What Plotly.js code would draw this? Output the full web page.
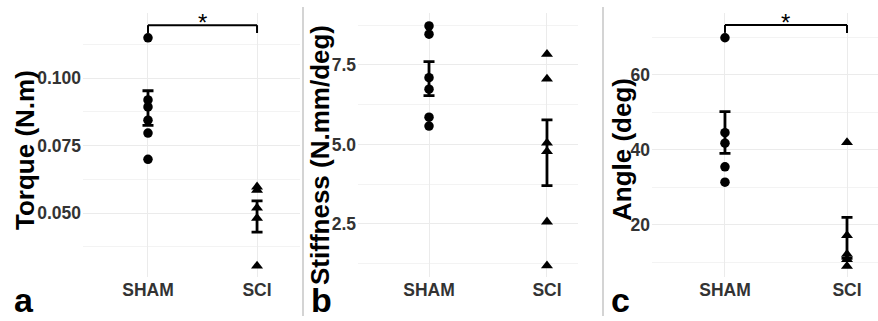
<!DOCTYPE html>
<html>
<head>
<meta charset="utf-8">
<script src="https://cdn.plot.ly/plotly-3.0.1.min.js"></script>
<style>html,body{margin:0;padding:0;background:#fff;}#chart{width:878px;height:321px;}</style>
</head>
<body>
<div id="chart"></div>
<script>
// ---- data ----
const categories = ['SHAM', 'SCI'];

const torqueSham = [0.1149, 0.0919, 0.0893, 0.0844, 0.0796, 0.0699];
const torqueSci  = [0.0597, 0.0585, 0.0519, 0.0481, 0.0304];
const torqueMean = [0.0889, 0.0487];
const torqueSE   = [0.0064, 0.0058];

const stiffSham = [8.73, 8.47, 7.10, 6.74, 5.86, 5.58];
const stiffSci  = [7.84, 7.06, 5.05, 4.78, 2.57, 1.19];
const stiffMean = [7.07, 4.74];
const stiffSE   = [0.535, 1.035];

const angleSham = [69.9, 44.6, 41.8, 35.5, 31.4];
const angleSci  = [42.0, 17.2, 12.2, 10.8, 9.0];
const angleMean = [44.65, 16.55];
const angleSE   = [5.55, 5.45];

const yTitles = ['Torque (N.m)', 'Stiffness (N.mm/deg)', 'Angle (deg)'];
const panelLabels = ['a', 'b', 'c'];
const sigText = '*';

// ---- layout helpers ----
const W = 878, H = 321;
const FONT = 'Liberation Sans, Arial, Helvetica, sans-serif';
const px = v => v / W;
const py = v => 1 - v / H;
const plotTop = 13, plotBot = 277;

const panels = [
  {sham: torqueSham, sci: torqueSci, mean: torqueMean, se: torqueSE,
   left: 83, right: 300, xr: [-0.596, 1.394], yr: [0.0263, 0.1241], dt: 0.025, fmt: '.3f',
   titleX: 25, titleY: 150, labelX: 12, sig: [0.1167, 0.1196]},
  {sham: stiffSham, sci: stiffSci, mean: stiffMean, se: stiffSE,
   left: 358, right: 578, xr: [-0.602, 1.263], yr: [0.833, 9.135], dt: 2.5, fmt: '.1f',
   titleX: 320, titleY: 155, labelX: 309, sig: null},
  {sham: angleSham, sci: angleSci, mean: angleMean, se: angleSE,
   left: 652, right: 878, xr: [-0.598, 1.254], yr: [6.13, 76.5], dt: 20, fmt: 'd',
   titleX: 622, titleY: 150, labelX: 609, sig: [71.2, 73.3]}
];

const traces = [];
const layout = {
  width: W, height: H,
  margin: {l: 0, r: 0, t: 0, b: 0},
  paper_bgcolor: '#ffffff', plot_bgcolor: '#ffffff',
  showlegend: false, hovermode: false,
  font: {family: FONT},
  shapes: [], annotations: []
};

panels.forEach((p, i) => {
  const n = i === 0 ? '' : String(i + 1);
  const xa = 'x' + n, ya = 'y' + n;
  traces.push({
    type: 'scatter', mode: 'markers', xaxis: xa, yaxis: ya,
    x: p.sham.map(() => categories[0]), y: p.sham,
    marker: {symbol: 'circle', size: 9.5, color: '#000'}
  });
  traces.push({
    type: 'scatter', mode: 'markers', xaxis: xa, yaxis: ya,
    x: p.sci.map(() => categories[1]), y: p.sci,
    marker: {symbol: 'triangle-up', size: 10.5, color: '#000'}
  });
  traces.push({
    type: 'scatter', mode: 'markers', xaxis: xa, yaxis: ya,
    x: categories, y: p.mean,
    marker: {size: 1, opacity: 0},
    error_y: {type: 'data', array: p.se, visible: true, color: '#000', thickness: 2.8, width: 5.5}
  });
  layout['xaxis' + n] = {
    domain: [px(p.left), px(p.right)], anchor: ya,
    type: 'category', categoryorder: 'array', categoryarray: categories,
    range: p.xr, showgrid: true, gridcolor: '#ebebeb', gridwidth: 1,
    zeroline: false, showline: false, ticks: '',
    tickfont: {family: FONT, size: 17.5, color: '#333', weight: 'bold'}
  };
  layout['yaxis' + n] = {
    domain: [py(plotBot), py(plotTop)], anchor: xa,
    range: p.yr, dtick: p.dt, tick0: 0, tickformat: p.fmt,
    showgrid: true, gridcolor: '#ebebeb', gridwidth: 1,
    minor: {dtick: p.dt / 2, tick0: 0, showgrid: true, gridcolor: '#f3f3f3', gridwidth: 1, ticks: ''},
    zeroline: false, showline: false, ticks: '', ticklabelstandoff: 1,
    tickfont: {family: FONT, size: 17.5, color: '#333', weight: 'bold'}
  };
  layout.annotations.push({
    xref: 'paper', yref: 'paper', x: px(p.titleX), y: py(p.titleY),
    xanchor: 'center', yanchor: 'middle', textangle: -90, showarrow: false,
    text: yTitles[i], font: {family: FONT, size: 26, color: '#000', weight: 'bold'}
  });
  layout.annotations.push({
    xref: 'paper', yref: 'paper', x: px(p.labelX), y: py(321),
    xanchor: 'left', yanchor: 'bottom', showarrow: false,
    text: panelLabels[i], font: {family: FONT, size: 34, color: '#000', weight: 'bold'}
  });
  if (p.sig) {
    const [lo, hi] = p.sig;
    const ln = {color: '#000', width: 2};
    layout.shapes.push({type: 'line', xref: xa, yref: ya, x0: 0, x1: 1, y0: hi, y1: hi, line: ln});
    layout.shapes.push({type: 'line', xref: xa, yref: ya, x0: 0, x1: 0, y0: lo, y1: hi, line: ln});
    layout.shapes.push({type: 'line', xref: xa, yref: ya, x0: 1, x1: 1, y0: lo, y1: hi, line: ln});
    layout.annotations.push({
      xref: xa, yref: ya, x: 0.5, y: hi, xanchor: 'center', yanchor: 'bottom',
      showarrow: false, text: sigText, yshift: -13,
      font: {family: FONT, size: 24, color: '#000'}
    });
  }
});

// panel separators
[303, 603].forEach(x => {
  layout.shapes.push({type: 'line', xref: 'paper', yref: 'paper',
    x0: px(x), x1: px(x), y0: py(316), y1: py(7), line: {color: '#d4d4d4', width: 2}});
});

Plotly.newPlot('chart', traces, layout, {displayModeBar: false, staticPlot: true});
</script>
</body>
</html>
